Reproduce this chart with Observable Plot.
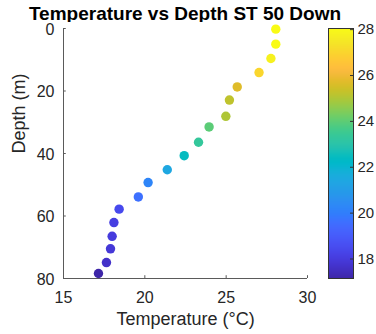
<!DOCTYPE html>
<html>
<head>
<meta charset="utf-8">
<script src="https://cdn.jsdelivr.net/npm/d3@7"></script>
<script src="https://cdn.jsdelivr.net/npm/@observablehq/plot@0.6"></script>
<style>
  html, body { margin: 0; padding: 0; background: #fff; }
  #wrap { position: relative; width: 376px; height: 334px; font-family: "Liberation Sans", Arial, Helvetica, sans-serif; color: #262626; }
  #title { position: absolute; left: 0; top: 5.5px; width: 370px; height: 16px; line-height: 16px; text-align: center; font-weight: bold; font-size: 19px; color: #000; white-space: nowrap; }
  #main { position: absolute; left: 0; top: 22px; }
  #cbar { position: absolute; left: 320px; top: 22px; }
</style>
</head>
<body>
<div id="wrap">
  <div id="title">Temperature vs Depth ST 50 Down</div>
  <div id="main"></div>
  <div id="cbar"></div>
</div>
<script>
// ---- Data ----
const temperature = [28.05, 28.05, 27.75, 27.02, 25.68, 25.2, 24.98, 23.95, 23.3, 22.42, 21.38, 20.2, 19.6, 18.42, 18.1, 17.99, 17.89, 17.64, 17.15];
const depth       = [0.2, 5.0, 9.6, 14.1, 18.7, 22.9, 28.1, 31.5, 36.4, 40.7, 45.2, 49.3, 53.9, 57.8, 62.1, 66.5, 70.5, 74.9, 78.4];
const xTicks = [15, 20, 25, 30];
const yTicks = [0, 20, 40, 60, 80];
const cbTicks = [18, 20, 22, 24, 26, 28];

// MATLAB parula colormap (64 entries)
const parula = [
[0.2422,0.1504,0.6603],[0.2504,0.1650,0.7076],[0.2578,0.1818,0.7511],[0.2647,0.1978,0.7952],
[0.2706,0.2147,0.8364],[0.2751,0.2342,0.8710],[0.2783,0.2559,0.8991],[0.2803,0.2782,0.9221],
[0.2813,0.3006,0.9414],[0.2810,0.3228,0.9579],[0.2795,0.3447,0.9717],[0.2760,0.3667,0.9829],
[0.2699,0.3892,0.9906],[0.2602,0.4123,0.9952],[0.2440,0.4358,0.9988],[0.2206,0.4603,0.9973],
[0.1963,0.4847,0.9892],[0.1834,0.5074,0.9798],[0.1786,0.5289,0.9682],[0.1764,0.5499,0.9520],
[0.1687,0.5703,0.9359],[0.1540,0.5902,0.9218],[0.1460,0.6091,0.9079],[0.1380,0.6276,0.8973],
[0.1248,0.6459,0.8883],[0.1113,0.6635,0.8763],[0.0952,0.6798,0.8598],[0.0689,0.6948,0.8394],
[0.0297,0.7082,0.8163],[0.0036,0.7203,0.7917],[0.0067,0.7312,0.7660],[0.0433,0.7411,0.7394],
[0.0964,0.7500,0.7120],[0.1408,0.7584,0.6842],[0.1717,0.7670,0.6554],[0.1938,0.7758,0.6251],
[0.2161,0.7843,0.5923],[0.2470,0.7918,0.5567],[0.2906,0.7973,0.5188],[0.3406,0.8008,0.4789],
[0.3909,0.8029,0.4354],[0.4456,0.8024,0.3909],[0.5044,0.7993,0.3480],[0.5616,0.7942,0.3045],
[0.6174,0.7876,0.2612],[0.6720,0.7793,0.2227],[0.7242,0.7698,0.1910],[0.7738,0.7598,0.1646],
[0.8203,0.7498,0.1535],[0.8634,0.7406,0.1596],[0.9035,0.7330,0.1774],[0.9393,0.7288,0.2100],
[0.9728,0.7298,0.2394],[0.9956,0.7434,0.2371],[0.9970,0.7659,0.2199],[0.9952,0.7893,0.2028],
[0.9892,0.8136,0.1885],[0.9786,0.8386,0.1766],[0.9676,0.8639,0.1643],[0.9610,0.8890,0.1537],
[0.9597,0.9135,0.1423],[0.9628,0.9373,0.1265],[0.9691,0.9606,0.1064],[0.9769,0.9839,0.0805]
].map(([r,g,b]) => d3.rgb(r*255, g*255, b*255).formatHex());

const rows = temperature.map((t, i) => ({temp: t, depth: depth[i]}));
const tExtent = d3.extent(temperature);
const colorScale = {type: "linear", domain: tExtent, interpolate: d3.piecewise(d3.interpolateRgb, parula)};

const axisColor = "#5a5a5a";
const textColor = "#262626";
const font = "Liberation Sans, Arial, Helvetica, sans-serif";

const main = Plot.plot({
  width: 376, height: 312,
  marginTop: 6, marginBottom: 56, marginLeft: 63, marginRight: 69,
  style: {fontFamily: font, background: "white", color: textColor, overflow: "visible"},
  x: {domain: [15, 30]},
  y: {domain: [0, 80], reverse: true},
  color: colorScale,
  marks: [
    Plot.ruleX([15], {stroke: axisColor, strokeWidth: 1}),
    Plot.ruleY([80], {stroke: axisColor, strokeWidth: 1}),
    Plot.ruleX(xTicks, {x: d => d, y1: 80, y2: 79.1, stroke: axisColor}),
    Plot.ruleY(yTicks, {y: d => d, x1: 15, x2: 15.17, stroke: axisColor}),
    Plot.axisX(xTicks, {tickSize: 0, tickPadding: 13, fontSize: 16, fill: textColor, label: null}),
    Plot.axisY(yTicks, {tickSize: 0, tickPadding: 9, fontSize: 16, fill: textColor, label: null, dy: 1}),
    Plot.text(["Temperature (°C)"], {text: d => d, frameAnchor: "bottom", dy: 34, lineAnchor: "top", fontSize: 18, fill: textColor}),
    Plot.text(["Depth (m)"], {text: d => d, frameAnchor: "left", dx: -51, rotate: -90, lineAnchor: "top", fontSize: 18, fill: textColor}),
    Plot.dot(rows, {x: "temp", y: "depth", fill: "temp", r: 4.7})
  ]
});
document.getElementById("main").appendChild(main);

// Colorbar
const nStrips = 250;
const strips = d3.range(nStrips).map(i => {
  const a = tExtent[0] + (tExtent[1] - tExtent[0]) * i / nStrips;
  const b = tExtent[0] + (tExtent[1] - tExtent[0]) * (i + 1) / nStrips;
  return {y1: a, y2: b, v: (a + b) / 2};
});
const cbar = Plot.plot({
  width: 56, height: 312,
  marginTop: 6, marginBottom: 56, marginLeft: 8, marginRight: 23,
  style: {fontFamily: font, background: "transparent", color: textColor, overflow: "visible"},
  x: {domain: [0, 1], axis: null},
  y: {domain: tExtent},
  color: colorScale,
  marks: [
    Plot.rect(strips, {x1: 0, x2: 1, y1: "y1", y2: "y2", fill: "v", shapeRendering: "crispEdges"}),
    Plot.frame({stroke: "#333", strokeWidth: 1}),
    Plot.ruleY(cbTicks, {y: d => d, x1: 0.88, x2: 1, stroke: "#333"}),
    Plot.axisY(cbTicks, {anchor: "right", tickSize: 0, tickPadding: 4, fontSize: 15, fill: textColor, label: null})
  ]
});
document.getElementById("cbar").appendChild(cbar);
</script>
</body>
</html>
